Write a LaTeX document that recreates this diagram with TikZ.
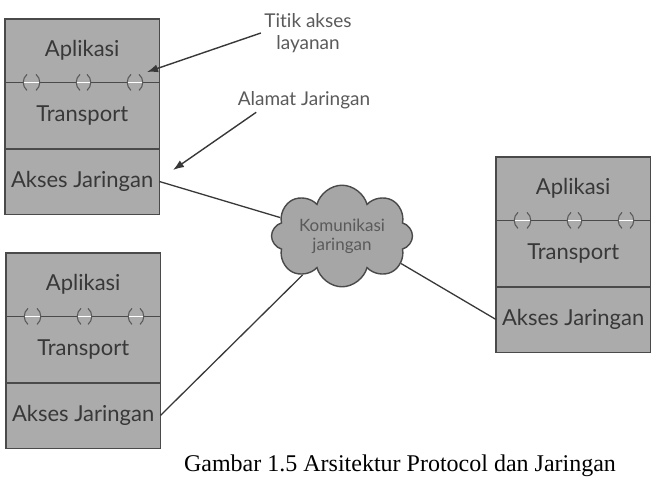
\documentclass[tikz,border=0pt]{standalone}
\usepackage{fontspec}
\setmainfont{Lato}[Ligatures={NoCommon, NoContextual}]
\newfontfamily\capfont{Liberation Serif}
\usetikzlibrary{shapes.symbols, arrows.meta}

\definecolor{boxgray}{HTML}{ABABAB}
\definecolor{cloudgray}{HTML}{A6A6A6}
\definecolor{edgegray}{HTML}{4A4A4A}
\definecolor{textgray}{HTML}{383838}
\definecolor{notegray}{HTML}{5A5A5A}

\begin{document}
\begin{tikzpicture}[x=1pt, y=-1pt]
		% Styles
		\tikzset{layer/.style={fill=boxgray,
								minimum width=154pt,
								inner sep=0pt,
								text=textgray,
								font=\fontsize{22}{26}\selectfont},
				frame/.style={draw=edgegray, line width=1.4pt},
				link/.style={draw=textgray, line width=1.3pt},
				note/.style={text=notegray, align=center,
								font=\fontsize{19}{22}\selectfont},
				pointer/.style={draw=textgray, line width=1.4pt,
								-{Latex[length=11pt, width=8pt]}}}
		
		\useasboundingbox (0,0) rectangle (657,480);
		
		% Protocol stacks
		\foreach \i/\x/\y in {1/5/19, 2/6/253, 3/496/157}{
			\node[layer, minimum height=63pt, anchor=north west] (a\i) at (\x,\y) {Aplikasi};
			\node[layer, minimum height=66pt, anchor=north] (t\i) at (a\i.south) {Transport};
			\node[layer, minimum height=65pt, anchor=north] (n\i) at (t\i.south) {Akses Jaringan};
			\draw[frame] (a\i.north west) rectangle (n\i.south east);
			\draw[frame] (n\i.north west) -- (n\i.north east);
			
			% service access points
			\draw[frame, line width=1.1pt] (a\i.south west) -- ++(18,0)
				++(17,0) -- ++(36,0) ++(15,0) -- ++(36,0) ++(16,0) -- (a\i.south east);
			\foreach \a/\b in {18/35, 71/86, 122/138}{
				\draw[notegray, line width=1.1pt]
					([shift={(\a+4,-8)}]a\i.south west) .. controls ([shift={(\a-1,-4)}]a\i.south west)
					and ([shift={(\a-1,4)}]a\i.south west) .. ([shift={(\a+4,8)}]a\i.south west);
				\draw[notegray, line width=1.1pt]
					([shift={(\b-4,-8)}]a\i.south west) .. controls ([shift={(\b+1,-4)}]a\i.south west)
					and ([shift={(\b+1,4)}]a\i.south west) .. ([shift={(\b-4,8)}]a\i.south west);
			}
		}
		
		% Network cloud
		\node[cloud, cloud puffs=8, aspect=1.7, fill=cloudgray, draw=edgegray,
			line width=1.4pt, minimum width=141pt, minimum height=82pt,
			inner sep=0pt, align=center, text=notegray,
			font=\fontsize{17}{19}\selectfont] at (342,236) (net) {Komunikasi\\jaringan};
		
		% Links
		\draw[link] (n1.east) -- (net);
		\draw[link] (n2.east) -- (net);
		\draw[link] (n3.west) -- (net.-25);
		
		% Annotations
		\node[note] at (308,33) (sapnote) {Titik akses\\layanan};
		\node[note] at (304,100) (addrnote) {Alamat Jaringan};
		\coordinate (sap) at (147,72);
		\coordinate (addr) at (173,170);
		\draw[pointer] (sapnote.west) -- (sap);
		\draw[pointer] ([xshift=22pt]addrnote.south west) -- (addr);
		
		% Caption
		\node[font=\capfont\fontsize{24}{28}\selectfont] at (400,466) (caption)
			{Gambar 1.5 Arsitektur Protocol dan Jaringan};
		
	\end{tikzpicture}
\end{document}
